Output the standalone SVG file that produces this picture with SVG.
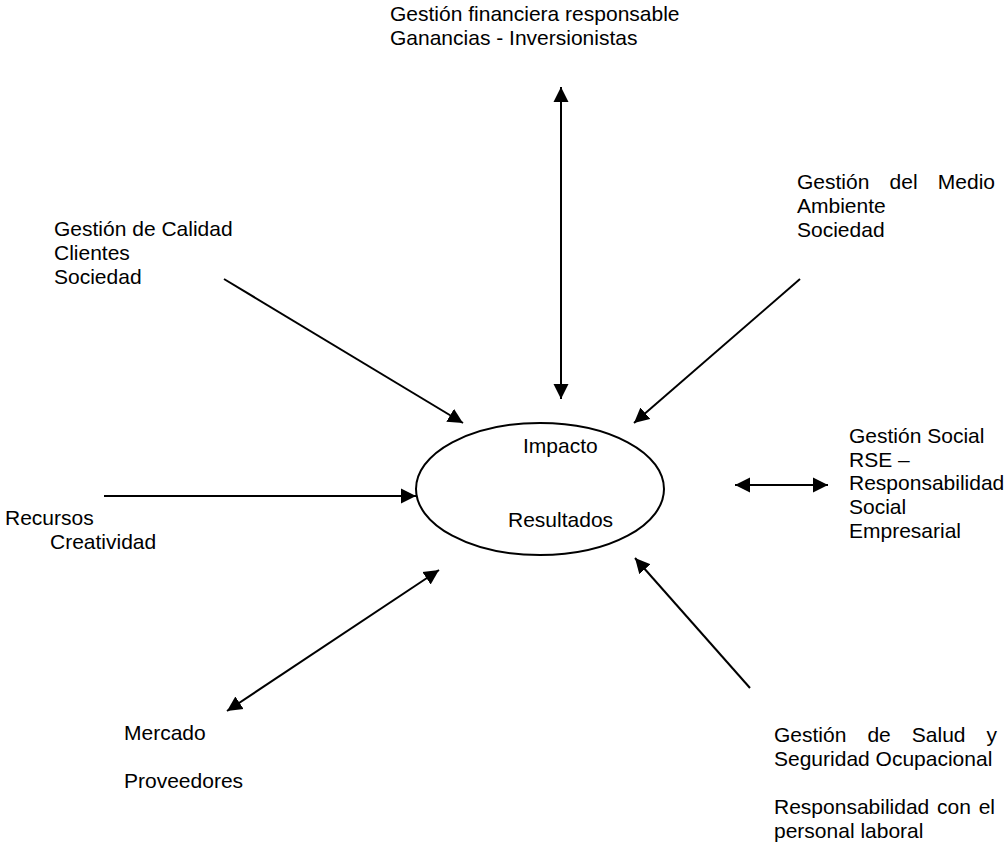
<svg xmlns="http://www.w3.org/2000/svg" width="1008" height="844" viewBox="0 0 1008 844">
<style>
  text { font-family: "Liberation Sans", Arial, sans-serif; font-size: 21px; fill: #000; }
  .conn { stroke: #000; stroke-width: 2; fill: none; }
</style>
<defs>
  <marker id="ah" markerUnits="userSpaceOnUse" markerWidth="16" markerHeight="16" viewBox="0 0 16 16" refX="15" refY="8" orient="auto-start-reverse">
    <path d="M0,0.5 L15,8 L0,15.5 Z" fill="#000"/>
  </marker>
</defs>
<rect width="1008" height="844" fill="#fff"/>

<g id="connectors">
  <line class="conn" x1="561" y1="87" x2="561" y2="399" marker-start="url(#ah)" marker-end="url(#ah)"/>
  <line class="conn" x1="224" y1="279" x2="463" y2="423" marker-end="url(#ah)"/>
  <line class="conn" x1="800" y1="279" x2="634" y2="423" marker-end="url(#ah)"/>
  <line class="conn" x1="104" y1="496" x2="416" y2="496" marker-end="url(#ah)"/>
  <line class="conn" x1="735" y1="485" x2="828" y2="485" marker-start="url(#ah)" marker-end="url(#ah)"/>
  <line class="conn" x1="439" y1="570" x2="227" y2="711" marker-start="url(#ah)" marker-end="url(#ah)"/>
  <line class="conn" x1="750" y1="688" x2="635" y2="558" marker-end="url(#ah)"/>
</g>

<g id="center">
  <ellipse cx="540" cy="489" rx="124" ry="66" fill="none" stroke="#000" stroke-width="2"/>
  <text x="523" y="453">Impacto</text>
  <text x="508" y="527">Resultados</text>
</g>

<g id="financiera">
  <text x="390" y="21">Gestión financiera responsable</text>
  <text x="390" y="45">Ganancias - Inversionistas</text>
</g>

<g id="calidad">
  <text x="54" y="236">Gestión de Calidad</text>
  <text x="54" y="260">Clientes</text>
  <text x="54" y="284">Sociedad</text>
</g>

<g id="medio">
  <text y="189"><tspan x="797">Gestión</tspan><tspan x="889.6">del</tspan><tspan x="937.8">Medio</tspan></text>
  <text x="797" y="213">Ambiente</text>
  <text x="797" y="237">Sociedad</text>
</g>

<g id="recursos">
  <text x="5" y="525">Recursos</text>
  <text x="50" y="549">Creatividad</text>
</g>

<g id="social">
  <text x="849" y="443">Gestión Social</text>
  <text x="849" y="467">RSE –</text>
  <text x="849" y="490">Responsabilidad</text>
  <text x="849" y="514">Social</text>
  <text x="849" y="538">Empresarial</text>
</g>

<g id="mercado">
  <text x="124" y="740">Mercado</text>
  <text x="124" y="788">Proveedores</text>
</g>

<g id="salud">
  <text y="742"><tspan x="774">Gestión</tspan><tspan x="867.4">de</tspan><tspan x="911.8">Salud</tspan><tspan x="986.5">y</tspan></text>
  <text x="774" y="766">Seguridad Ocupacional</text>
  <text y="814"><tspan x="774">Responsabilidad</tspan><tspan x="937">con</tspan><tspan x="978.7">el</tspan></text>
  <text x="774" y="838">personal laboral</text>
</g>
</svg>
